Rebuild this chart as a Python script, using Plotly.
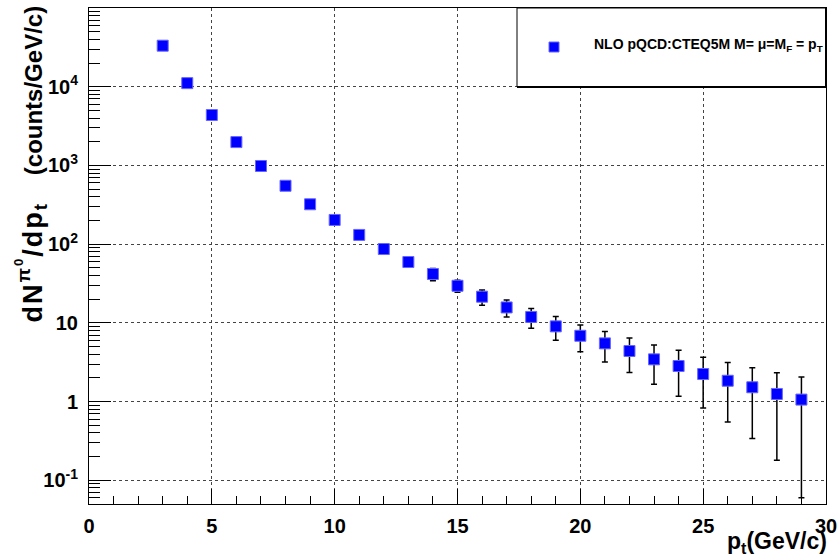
import plotly.graph_objects as go

# ---- data ----
pt = [3, 4, 5, 6, 7, 8, 9, 10, 11, 12, 13, 14, 15, 16, 17, 18, 19, 20,
      21, 22, 23, 24, 25, 26, 27, 28, 29]
dndpt = [33200, 11100, 4370, 1980, 984, 552, 321, 203, 131, 86.7, 59.3, 41.8,
         29.6, 21.5, 15.7, 11.9, 9.03, 6.86, 5.49, 4.39, 3.44, 2.83, 2.24,
         1.84, 1.52, 1.25, 1.06]
err = [1500, 700, 350, 180, 100, 60, 36, 23, 15, 10.5, 7.8, 7.4,
       5.1, 4.7, 3.8, 3.35, 3.0, 2.55, 2.3, 2.05, 1.78, 1.66, 1.41,
       1.29, 1.18, 1.07, 1.0]
x_ticks = [0, 5, 10, 15, 20, 25, 30]
y_ticks = [0.1, 1, 10, 100, 1000, 10000]
y_ticktext = ["<b>10<sup>-1</sup></b>", "<b>1</b>", "<b>10</b>",
              "<b>10<sup>2</sup></b>", "<b>10<sup>3</sup></b>", "<b>10<sup>4</sup></b>"]
legend_label = "NLO pQCD:CTEQ5M M= μ=M<sub>F</sub> = p<sub>T</sub>"

# ---- layout geometry (pixels) ----
W, H = 839, 559
L, R, T, B = 89, 826, 8, 504
pw, ph = R - L, B - T


def px(x):
    return (x - L) / pw


def py(y):
    return (B - y) / ph


FONT = "Liberation Sans, Arial, sans-serif"

minor_y = []
for dec in [0.01, 0.1, 1, 10, 100, 1000, 10000]:
    for m in range(2, 10):
        v = dec * m
        if 0.05 <= v <= 1e5:
            minor_y.append(v)

fig = go.Figure()
fig.add_trace(go.Scatter(
    x=pt, y=dndpt, mode="markers",
    marker=dict(symbol="square", size=11, color="#0000ff",
                line=dict(width=1, color="#6666ff")),
    error_y=dict(type="data", array=err, visible=True, color="black",
                 thickness=1.5, width=3),
    showlegend=False,
))

fig.update_layout(
    width=W, height=H,
    margin=dict(l=L, r=W - R, t=T, b=H - B, autoexpand=False),
    paper_bgcolor="white", plot_bgcolor="white",
    font=dict(family=FONT, color="black"),
    xaxis=dict(
        range=[0, 30], tickvals=x_ticks, automargin=False,
        ticktext=["<b>%d</b>" % v for v in x_ticks],
        tickfont=dict(size=20, family=FONT, color="black"),
        ticks="inside", ticklen=15, tickwidth=1, tickcolor="black",
        ticklabelstandoff=4,
        showline=True, linecolor="black", linewidth=1, mirror=True,
        showgrid=True, gridcolor="#444444", gridwidth=1, griddash="dot",
        zeroline=False,
        minor=dict(dtick=1, ticks="inside", ticklen=8, tickcolor="black",
                   showgrid=False),
    ),
    yaxis=dict(
        type="log", range=[-1.30103, 5], automargin=False,
        tickvals=y_ticks, ticktext=y_ticktext,
        tickfont=dict(size=20, family=FONT, color="black"),
        ticks="inside", ticklen=22, tickwidth=1, tickcolor="black",
        ticklabelstandoff=6,
        showline=True, linecolor="black", linewidth=1, mirror=True,
        showgrid=True, gridcolor="#444444", gridwidth=1, griddash="dot",
        zeroline=False,
        minor=dict(tickmode="array", tickvals=minor_y, ticks="inside",
                   ticklen=11, tickcolor="black", showgrid=False),
    ),
)

# legend box drawn as in the reference
fig.add_shape(type="rect", xref="paper", yref="paper",
              x0=px(517), x1=px(826), y0=py(87), y1=py(8),
              line=dict(color="black", width=1), fillcolor="white", layer="above")
fig.add_shape(type="line", xref="paper", yref="paper",
              x0=px(517), x1=px(826), y0=py(87), y1=py(87),
              line=dict(color="black", width=2), layer="above")
fig.add_shape(type="line", xref="paper", yref="paper",
              x0=px(826), x1=px(826), y0=py(87), y1=py(8),
              line=dict(color="black", width=2), layer="above")
fig.add_shape(type="rect", xref="paper", yref="paper",
              x0=px(549), x1=px(559), y0=py(52), y1=py(42),
              line=dict(color="#6666ff", width=1), fillcolor="#0000ff", layer="above")
fig.add_annotation(xref="paper", yref="paper", x=px(592), y=py(45),
                   xanchor="left", yanchor="middle", showarrow=False,
                   text="<b>" + legend_label + "</b>",
                   font=dict(size=14, family=FONT, color="black"))

# axis titles
ytitle = ("<b><span style='font-size:27px;letter-spacing:2px'>dN<sup>π<sup>0</sup></sup>/dp<sub>t</sub></span>"
          "\u00a0\u00a0\u00a0\u00a0(counts/GeV/c)</b>")
fig.add_annotation(xref="paper", yref="paper", x=px(31), y=py(4),
                   xanchor="center", yanchor="top", showarrow=False, textangle=-90,
                   text=ytitle,
                   font=dict(size=24, family=FONT, color="black"))
fig.add_annotation(xref="paper", yref="paper", x=px(829), y=py(542),
                   xanchor="right", yanchor="middle", showarrow=False,
                   text="<b>p<sub>t</sub>(GeV/c)</b>",
                   font=dict(size=23, family=FONT, color="black"))

fig.write_html("out.html")
